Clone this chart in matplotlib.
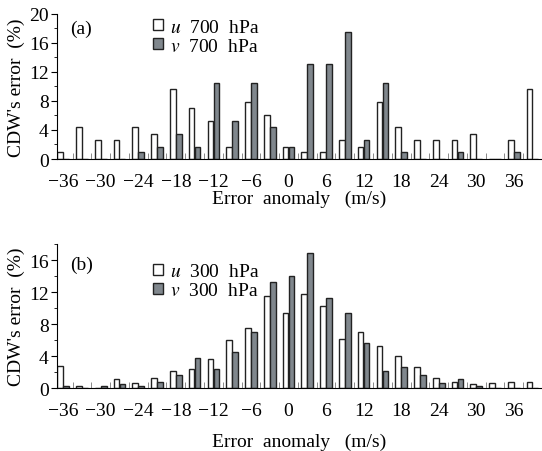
import numpy as np
import matplotlib
matplotlib.use("Agg")
import matplotlib.pyplot as plt
from matplotlib.ticker import MultipleLocator, FixedLocator

plt.rcParams['font.family'] = ['Liberation Serif', 'DejaVu Serif']
plt.rcParams['mathtext.fontset'] = 'stix'
plt.rcParams['font.size'] = 14

# error anomaly bins (m/s)
centers = np.arange(-36, 40, 3)
xticks = np.arange(-36, 37, 6)

# (a) 700 hPa, percent
u700 = [0.9, 4.4, 2.6, 2.6, 4.4, 3.5, 9.6, 7.0, 5.3, 1.7, 7.8, 6.1, 1.7,
        0.9, 0.9, 2.6, 1.7, 7.8, 4.4, 2.6, 2.6, 2.6, 3.5, 0, 2.6, 9.6]
v700 = [0, 0, 0, 0, 0.9, 1.7, 3.5, 1.7, 10.5, 5.3, 10.5, 4.4, 1.7,
        13.1, 13.1, 17.5, 2.6, 10.5, 0.9, 0, 0, 0.9, 0, 0, 0.9, 0]

# (b) 300 hPa, percent
u300 = [2.75, 0.25, 0, 1.1, 0.6, 1.3, 2.2, 2.4, 3.6, 6.0, 7.5, 11.5, 9.4,
        11.8, 10.2, 6.2, 7.0, 5.3, 4.0, 2.6, 1.3, 0.8, 0.5, 0.6, 0.8, 0.8]
v300 = [0.25, 0, 0.25, 0.5, 0.25, 0.8, 1.7, 3.8, 2.4, 4.5, 7.0, 13.2, 14.0,
        16.9, 11.3, 9.4, 5.7, 2.2, 2.7, 1.6, 0.6, 1.1, 0.25, 0, 0, 0]

gray = '#80878d'
w = 0.92

fig = plt.figure(figsize=(5.42, 4.52), dpi=100)
ax_a = fig.add_axes([0.105, 0.646, 0.895, 0.321])
ax_b = fig.add_axes([0.105, 0.139, 0.895, 0.319])


def draw(ax, u, v, lev, tag, ymax, tag_y, leg_y, xpad):
    ax.bar(centers - 0.48, u, width=w, color='white', edgecolor='#222222',
           linewidth=1.0, label=r'$u$  %d  hPa' % lev)
    ax.bar(centers + 0.48, v, width=w, color=gray, edgecolor='#222222',
           linewidth=1.0, label=r'$v$  %d  hPa' % lev)
    ax.set_xlim(-37, 40.5)
    ax.set_ylim(0, ymax)
    ax.spines['top'].set_visible(False)
    ax.spines['right'].set_visible(False)
    ax.set_xticks(xticks)
    ax.set_xticklabels(['\u2212%d' % -t if t < 0 else '%d' % t for t in xticks])
    ax.xaxis.set_minor_locator(FixedLocator(np.arange(-34.5, 41, 3)))
    ax.tick_params(axis='x', which='major', length=0, pad=10)
    ax.tick_params(axis='x', which='minor', direction='in', length=4,
                   color='#777777')
    ax.yaxis.set_major_locator(MultipleLocator(4))
    ax.yaxis.set_minor_locator(MultipleLocator(2))
    ax.tick_params(axis='y', which='major', direction='out', length=4, pad=2)
    ax.tick_params(axis='y', which='minor', direction='out', length=2.5)
    ax.set_xlabel('Error  anomaly   (m/s)', labelpad=xpad)
    ax.set_ylabel("CDW's error  (%)", labelpad=3)
    ax.text(0.027, tag_y, tag, transform=ax.transAxes, va='center', ha='left')
    ax.legend(loc='upper left', bbox_to_anchor=(0.17, leg_y),
              frameon=False, handlelength=0.5, handleheight=0.5,
              handletextpad=0.35, labelspacing=0.1, borderpad=0.2)


draw(ax_a, u700, v700, 700, '(a)', 20, 0.9, 1.06, 0)
draw(ax_b, u300, v300, 300, '(b)', 18, 0.86, 0.96, 10)

fig.savefig('out.png', dpi=100)
